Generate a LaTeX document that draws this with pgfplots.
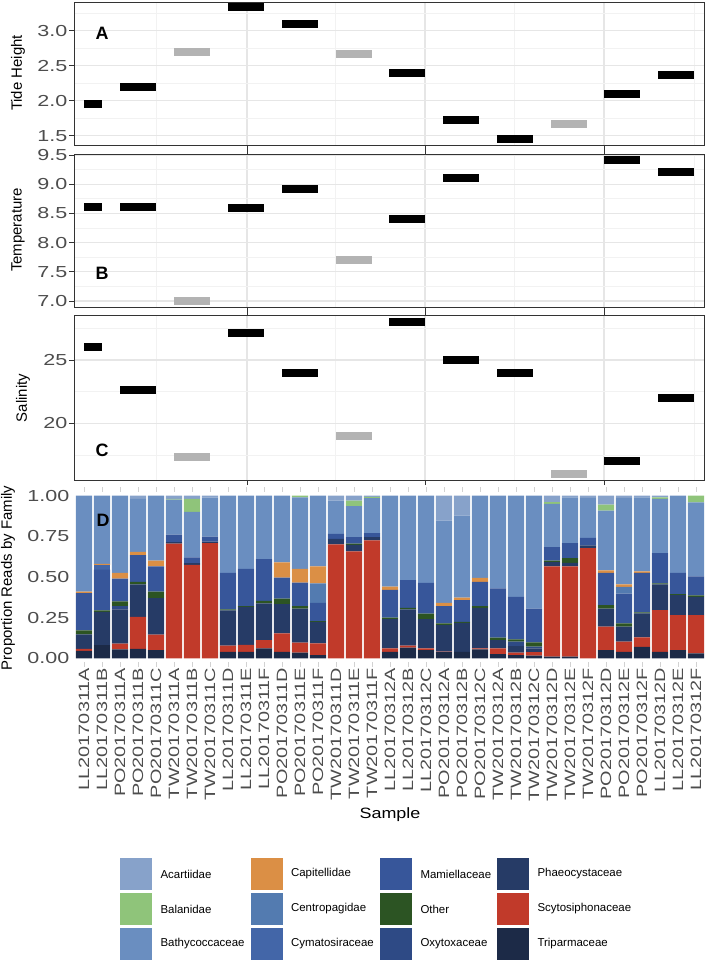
\documentclass[border=0pt]{standalone}
\usepackage{fontspec}
\setmainfont{Liberation Sans}
\usepackage{pgfplots}
\pgfplotsset{compat=1.18}
\usepackage{pgfplotstable}
\usepackage{graphicx}

\definecolor{cAca}{HTML}{87A2CA}
\definecolor{cBal}{HTML}{8FC47A}
\definecolor{cBat}{HTML}{6A8EC0}
\definecolor{cCap}{HTML}{DB8F45}
\definecolor{cCen}{HTML}{537BB0}
\definecolor{cCym}{HTML}{4366A8}
\definecolor{cMam}{HTML}{37569A}
\definecolor{cOth}{HTML}{2C5423}
\definecolor{cOxy}{HTML}{2E4A85}
\definecolor{cPha}{HTML}{263B66}
\definecolor{cScy}{HTML}{C13A2A}
\definecolor{cTri}{HTML}{1C2A47}
\definecolor{segGray}{HTML}{B3B3B3}
\definecolor{gridMaj}{HTML}{E6E6E6}
\definecolor{gridMin}{HTML}{F2F2F2}
\definecolor{frameC}{HTML}{333333}
\definecolor{tickTxt}{HTML}{4D4D4D}

\newcommand{\sx}[1]{\scalebox{1.33}[1]{#1}}
\newcommand{\sy}[1]{\scalebox{1.35}[1]{#1}}

\pgfplotstableread{
x Tri Scy Pha Oxy Oth Mam Cym Cen Cap Bat Bal Aca
0 .045 .012 .090 0 .025 .228 0 0 .010 .590 0 0
1 .080 0 .205 0 .010 .250 .030 0 .005 .420 0 0
2 .055 .035 .210 .020 .030 .140 0 0 .035 .475 0 0
3 .057 .198 .200 0 .015 .165 0 0 .020 .325 0 .020
4 .050 .095 .225 0 .040 .155 0 0 .035 .400 0 0
5 0 .705 .010 0 0 .045 0 0 0 .215 .005 .020
6 0 .575 .010 0 0 .035 0 0 0 .280 .080 .020
7 0 .708 .010 0 0 .030 0 0 0 .240 0 .012
8 .040 .037 .218 0 .005 .225 0 0 0 .475 0 0
9 .040 .042 .234 0 .005 .229 0 0 0 .450 0 0
10 .060 .052 .225 0 .016 .257 0 0 0 .390 0 0
11 .040 .113 .180 0 .034 .129 0 0 .094 .410 0 0
12 .035 .061 .210 0 .014 .145 0 0 .085 .440 .010 0
13 .020 .072 .132 0 .005 .111 0 .120 .105 .435 0 0
14 0 .700 .035 0 0 .030 0 0 0 .205 0 .030
15 0 .657 .040 0 .008 .040 0 0 0 .190 .035 .030
16 0 .725 .020 0 0 .025 0 0 0 .215 .008 .007
17 .040 .020 .180 0 .010 .170 0 0 .020 .560 0 0
18 .065 .013 .222 0 .010 .170 0 0 0 .520 0 0
19 .050 .010 .180 0 .035 .188 0 0 0 .537 0 0
20 .037 .004 .163 0 .010 .106 0 0 .020 .507 0 .153
21 .040 0 .178 0 .006 .133 0 0 .016 .504 0 .123
22 .055 .006 .249 0 .010 .150 0 0 .024 .506 0 0
23 .025 .035 .052 0 .015 .303 0 0 0 .570 0 0
24 .020 .015 .040 .027 .014 .262 0 0 0 .622 0 0
25 .016 .021 .023 .012 .026 .208 0 0 0 .694 0 0
26 .010 .555 .027 0 .008 .084 0 0 0 .266 .010 .040
27 .010 .555 .021 0 .030 .092 0 0 0 .282 0 .010
28 0 .678 .016 0 0 .047 0 0 0 .245 0 .014
29 .050 .144 .112 0 .021 .198 0 0 .016 .367 .037 .055
30 .040 .062 .092 0 .020 .184 0 .041 .016 .531 0 .014
31 .070 .059 .147 0 .006 .243 0 0 .010 .455 0 .010
32 .040 .256 .159 0 .006 .186 0 0 0 .333 .010 .010
33 .050 .215 .123 0 .006 .131 0 0 0 .475 0 0
34 .030 .235 .113 0 .008 .118 0 0 0 .455 .041 0
}\famdata

\pgfplotsset{
  envpanel/.style={
    anchor=north west, scale only axis, width=630bp,
    xmin=74, xmax=704,
    axis line style={draw=frameC, line width=0.9bp},
    xtick={247,425,604}, xticklabels={},
    minor xtick={156,335,514,694},
    xmajorgrids, xminorgrids, ymajorgrids, yminorgrids,
    major grid style={draw=gridMaj, line width=1.2bp},
    minor grid style={draw=gridMin, line width=0.6bp},
    tick align=outside,
    major tick length=5bp, minor tick length=0pt,
    tick style={draw=frameC, line width=0.9bp},
    ytick pos=left,
    yticklabel style={font=\fontsize{16}{16}\selectfont, text=tickTxt, inner sep=1.5bp},
    /pgf/number format/assume math mode=true,
    /pgf/number format/.cd, fixed, fixed zerofill, precision=1,
  },
  seg/.style={line width=8bp, line cap=butt, unbounded coords=jump},
}

\begin{document}
\begin{tikzpicture}[x=1bp,y=1bp]

% ---------------- Panel A: Tide Height
\begin{axis}[envpanel, at={(74bp,-2bp)}, height=143bp,
  ymin=1.367, ymax=3.41,
  ytick={1.5,2,2.5,3}, minor ytick={1.75,2.25,2.75,3.25},
  xtick pos=bottom,
  yticklabel={\sy{\pgfmathprintnumber{\tick}}}]
\addplot[black, seg] coordinates {
(84,1.95) (102,1.95) (110,nan)
(120,2.20) (156,2.20) (160,nan)
(228,3.34) (264,3.34) (270,nan)
(282,3.09) (318,3.09) (320,nan)
(389,2.39) (425,2.39) (430,nan)
(443,1.72) (479,1.72) (485,nan)
(497,1.45) (533,1.45) (540,nan)
(604,2.09) (640,2.09) (645,nan)
(658,2.37) (694,2.37)};
\addplot[segGray, seg] coordinates {
(174,2.70) (210,2.70) (220,nan)
(336,2.67) (372,2.67) (380,nan)
(551,1.67) (587,1.67)};
\end{axis}

% ---------------- Panel B: Temperature
\begin{axis}[envpanel, at={(74bp,-154bp)}, height=153bp,
  ymin=6.897, ymax=9.517,
  ytick={7,7.5,8,8.5,9,9.5}, minor ytick={7.25,7.75,8.25,8.75,9.25},
  xtick pos=both,
  yticklabel={\sy{\pgfmathprintnumber{\tick}}}]
\addplot[black, seg] coordinates {
(84,8.61) (102,8.61) (110,nan)
(120,8.61) (156,8.61) (160,nan)
(228,8.60) (264,8.60) (270,nan)
(282,8.91) (318,8.91) (320,nan)
(389,8.41) (425,8.41) (430,nan)
(443,9.11) (479,9.11) (485,nan)
(604,9.41) (640,9.41) (645,nan)
(658,9.21) (694,9.21)};
\addplot[segGray, seg] coordinates {
(174,7.00) (210,7.00) (220,nan)
(336,7.71) (372,7.71)};
\end{axis}

% ---------------- Panel C: Salinity
\begin{axis}[envpanel, at={(74bp,-315bp)}, height=165bp,
  ymin=15.52, ymax=28.55,
  ytick={20,25}, minor ytick={17.5,22.5,27.5},
  xtick pos=both,
  /pgf/number format/precision=0,
  yticklabel={\sy{\pgfmathprintnumber{\tick}}}]
\addplot[black, seg] coordinates {
(84,26.0) (102,26.0) (110,nan)
(120,22.6) (156,22.6) (160,nan)
(228,27.1) (264,27.1) (270,nan)
(282,24.0) (318,24.0) (320,nan)
(389,28.0) (425,28.0) (430,nan)
(443,25.0) (479,25.0) (485,nan)
(497,24.0) (533,24.0) (540,nan)
(604,17.0) (640,17.0) (645,nan)
(658,22.0) (694,22.0)};
\addplot[segGray, seg] coordinates {
(174,17.36) (210,17.36) (220,nan)
(336,19.0) (372,19.0) (380,nan)
(551,16.0) (587,16.0)};
\end{axis}

% ---------------- Panel D: stacked bars
\begin{axis}[at={(75bp,-491.6bp)}, anchor=north west,
  scale only axis, width=630bp, height=170.7bp,
  xmin=-0.5, xmax=34.5, ymin=-0.025, ymax=1.025,
  ybar stacked, bar width=0.9,
  axis line style={draw=none},
  xtick={0,...,34},
  xticklabels={\sx{LL20170311A},\sx{LL20170311B},\sx{PO20170311A},\sx{PO20170311B},\sx{PO20170311C},\sx{TW20170311A},\sx{TW20170311B},\sx{TW20170311C},\sx{LL20170311D},\sx{LL20170311E},\sx{LL20170311F},\sx{PO20170311D},\sx{PO20170311E},\sx{PO20170311F},\sx{TW20170311D},\sx{TW20170311E},\sx{TW20170311F},\sx{LL20170312A},\sx{LL20170312B},\sx{LL20170312C},\sx{PO20170312A},\sx{PO20170312B},\sx{PO20170312C},\sx{TW20170312A},\sx{TW20170312B},\sx{TW20170312C},\sx{TW20170312D},\sx{TW20170312E},\sx{TW20170312F},\sx{PO20170312D},\sx{PO20170312E},\sx{PO20170312F},\sx{LL20170312D},\sx{LL20170312E},\sx{LL20170312F}},
  x tick label style={rotate=90, anchor=east, font=\fontsize{15}{15}\selectfont, text=tickTxt, inner sep=1bp},
  xtick pos=both, tick align=outside, major tick length=4.5bp,
  x tick style={draw=gray!35, line width=0.6bp},
  ytick={0,0.25,0.5,0.75,1},
  yticklabels={\sy{0.00},\sy{0.25},\sy{0.50},\sy{0.75},\sy{1.00}},
  y tick style={draw=none},
  yticklabel style={font=\fontsize{16}{16}\selectfont, text=tickTxt, inner sep=1bp},
  ]
\addplot[fill=cTri, draw=none] table[x=x, y=Tri] {\famdata};
\addplot[fill=cScy, draw=none] table[x=x, y=Scy] {\famdata};
\addplot[fill=cPha, draw=none] table[x=x, y=Pha] {\famdata};
\addplot[fill=cOxy, draw=none] table[x=x, y=Oxy] {\famdata};
\addplot[fill=cOth, draw=none] table[x=x, y=Oth] {\famdata};
\addplot[fill=cMam, draw=none] table[x=x, y=Mam] {\famdata};
\addplot[fill=cCym, draw=none] table[x=x, y=Cym] {\famdata};
\addplot[fill=cCen, draw=none] table[x=x, y=Cen] {\famdata};
\addplot[fill=cCap, draw=none] table[x=x, y=Cap] {\famdata};
\addplot[fill=cBat, draw=none] table[x=x, y=Bat] {\famdata};
\addplot[fill=cBal, draw=none] table[x=x, y=Bal] {\famdata};
\addplot[fill=cAca, draw=none] table[x=x, y=Aca] {\famdata};
\end{axis}

% ---------------- Panel letters
\node[font=\fontsize{18}{18}\selectfont\bfseries] at (102,-33) {A};
\node[font=\fontsize{18}{18}\selectfont\bfseries] at (102,-273) {B};
\node[font=\fontsize{18}{18}\selectfont\bfseries] at (102,-450) {C};
\node[font=\fontsize{18}{18}\selectfont\bfseries] at (103,-520) {D};

% ---------------- Axis titles
\node[rotate=90, font=\fontsize{15}{15}\selectfont] at (18,-73) {Tide Height};
\node[rotate=90, font=\fontsize{15}{15}\selectfont] at (18,-230) {Temperature};
\node[rotate=90, font=\fontsize{15}{15}\selectfont] at (23,-398) {Salinity};
\node[rotate=90, font=\fontsize{15}{15}\selectfont] at (8,-578) {Proportion Reads by Family};
\node[font=\fontsize{15}{15}\selectfont] at (390,-815) {\scalebox{1.2}[1]{Sample}};

% ---------------- Legend
\begin{scope}[every node/.style={font=\fontsize{11.5}{11.5}\selectfont, anchor=west}]
\foreach \c/\lab/\xx/\row in {
  cAca/Acartiidae/120/0, cBal/Balanidae/120/1, cBat/Bathycoccaceae/120/2,
  cCap/Capitellidae/250.5/0, cCen/Centropagidae/250.5/1, cCym/Cymatosiraceae/250.5/2,
  cMam/Mamiellaceae/380/0, cOth/Other/380/1, cOxy/Oxytoxaceae/380/2,
  cPha/Phaeocystaceae/497/0, cScy/Scytosiphonaceae/497/1, cTri/Triparmaceae/497/2}{
  \fill[\c] (\xx,{-858-35*\row}) rectangle ++(32,-32);
  \node at ({\xx+37},{-874-35*\row}) {\lab};
}
\end{scope}

\pgfresetboundingbox
\path[use as bounding box] (0,0) rectangle (713,-961);
\end{tikzpicture}
\end{document}
